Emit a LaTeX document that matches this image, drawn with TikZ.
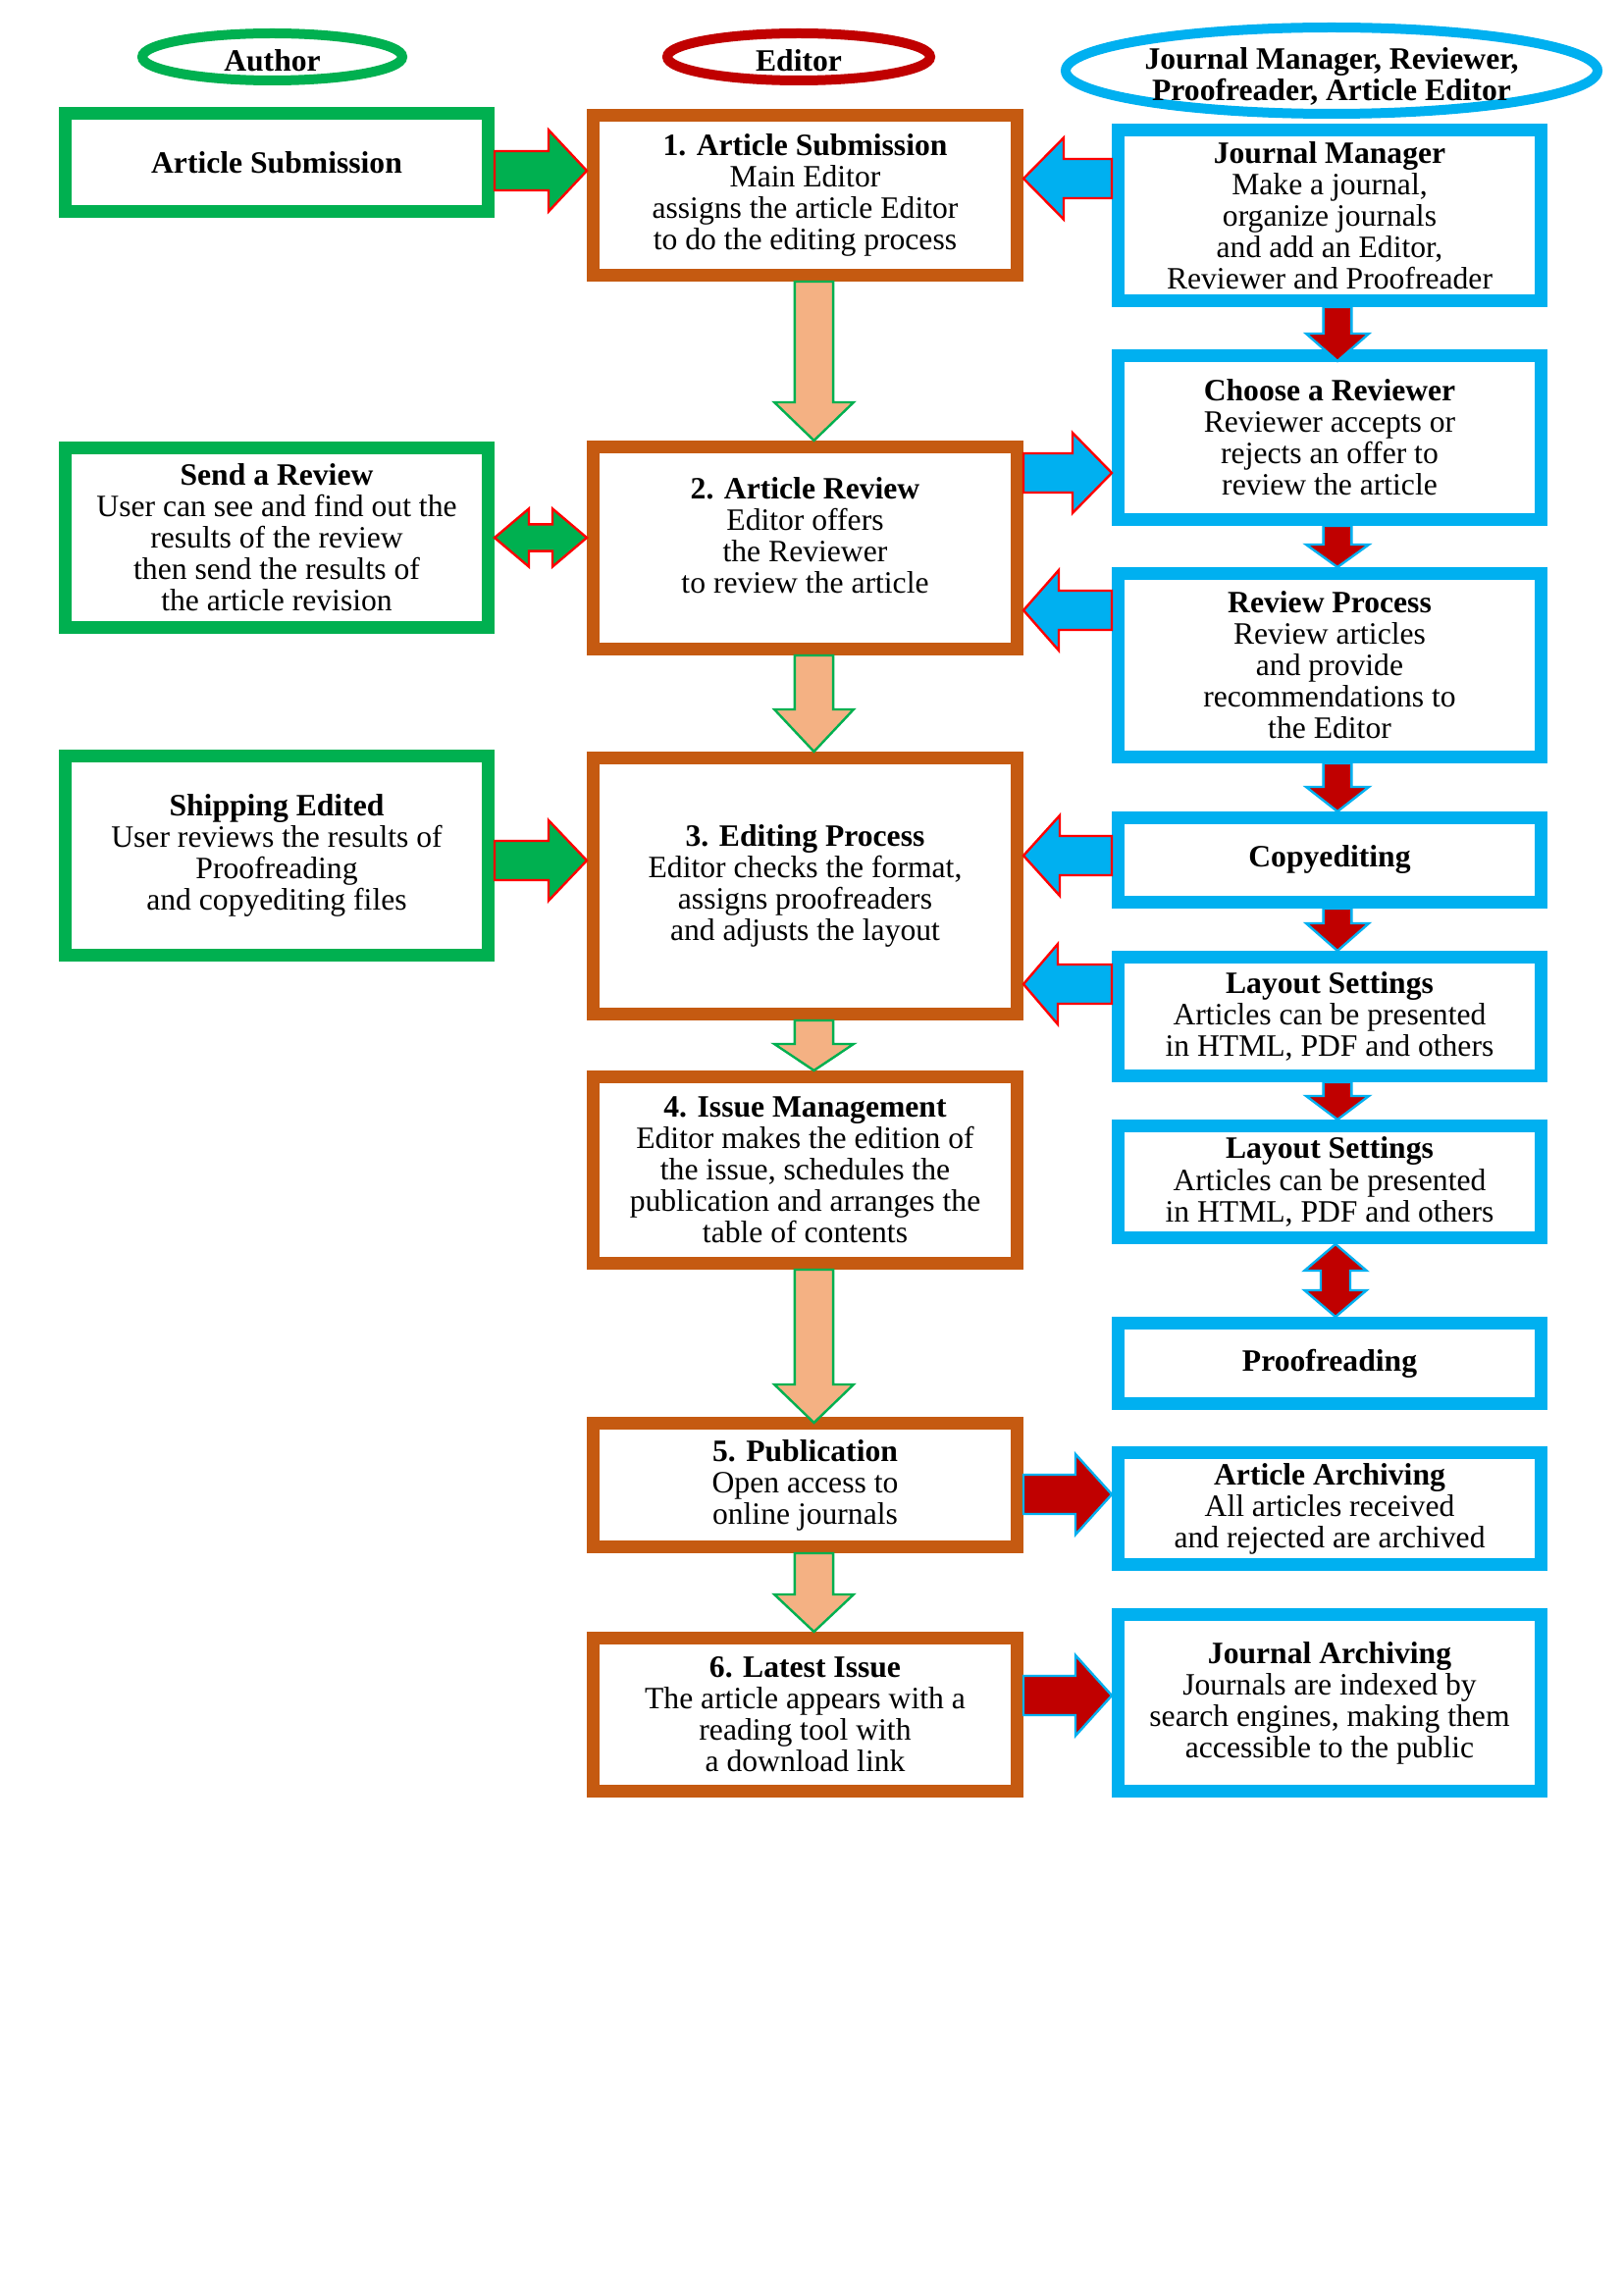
\documentclass[tikz,border=0pt]{standalone}
\usepackage{fontspec}
\setmainfont{Liberation Serif}
\usetikzlibrary{calc,shapes.geometric}
\definecolor{agreen}{HTML}{00B050}
\definecolor{eorange}{HTML}{C55A11}
\definecolor{jblue}{HTML}{00B0F0}
\definecolor{dred}{HTML}{C00000}
\definecolor{peach}{HTML}{F4B183}
\definecolor{bred}{HTML}{FF0000}

% single block arrow: style, start, end, shaft half width, head half width, head length
\newcommand\blockarrow[6]{%
  \path[#1] let \p1=#2, \p2=#3,
     \n1={atan2((\y2)-(\y1),(\x2)-(\x1))},
     \n2={veclen((\x2)-(\x1),(\y2)-(\y1))} in
     ($(\p1)+(\n1+90:#4)$) --
     ($(\p1)+(\n1:\n2-#6)+(\n1+90:#4)$) --
     ($(\p1)+(\n1:\n2-#6)+(\n1+90:#5)$) --
     (\p2) --
     ($(\p1)+(\n1:\n2-#6)+(\n1-90:#5)$) --
     ($(\p1)+(\n1:\n2-#6)+(\n1-90:#4)$) --
     ($(\p1)+(\n1-90:#4)$) -- cycle;}
% double block arrow
\newcommand\dblockarrow[6]{%
  \path[#1] let \p1=#2, \p2=#3,
     \n1={atan2((\y2)-(\y1),(\x2)-(\x1))},
     \n2={veclen((\x2)-(\x1),(\y2)-(\y1))} in
     (\p1) --
     ($(\p1)+(\n1:#6)+(\n1+90:#5)$) --
     ($(\p1)+(\n1:#6)+(\n1+90:#4)$) --
     ($(\p1)+(\n1:\n2-#6)+(\n1+90:#4)$) --
     ($(\p1)+(\n1:\n2-#6)+(\n1+90:#5)$) --
     (\p2) --
     ($(\p1)+(\n1:\n2-#6)+(\n1-90:#5)$) --
     ($(\p1)+(\n1:\n2-#6)+(\n1-90:#4)$) --
     ($(\p1)+(\n1:#6)+(\n1-90:#4)$) --
     ($(\p1)+(\n1:#6)+(\n1-90:#5)$) -- cycle;}

\begin{document}
\begin{tikzpicture}[x=0.25mm,y=0.25mm,
  txt/.style={font=\fontsize{22.5}{22.8}\selectfont, align=center, inner sep=2pt},
  box/.style={txt, rectangle, line width=3.25mm, fill=white, minimum width=107.75mm},
  abox/.style={box, draw=agreen},
  ebox/.style={box, draw=eorange, minimum width=108mm},
  jbox/.style={box, draw=jblue},
  role/.style={ellipse, line width=2.5mm, inner sep=0pt},
  roletxt/.style={txt, font=\fontsize{22.5}{22.8}\selectfont\bfseries},
  garrow/.style={fill=agreen, draw=bred, line width=0.6mm, line join=miter},
  barrow/.style={fill=jblue, draw=bred, line width=0.6mm, line join=miter},
  oarrow/.style={fill=peach, draw=agreen, line width=0.6mm, line join=miter},
  rarrow/.style={fill=dred, draw=jblue, line width=0.6mm, line join=miter}]

\fill[white] (0,0) rectangle (1654,-2339);
\useasboundingbox (0,0) rectangle (1654,-2339);

% role ellipses
\node[role, draw=agreen, minimum width=66.25mm, minimum height=12mm] (eauthor) at (277.5,-58) {};
\node[roletxt] (tauthor) at (277.5,-62) {Author};
\node[role, draw=dred, minimum width=67mm, minimum height=12mm] (eeditor) at (814,-58) {};
\node[roletxt] (teditor) at (814,-62) {Editor};
\node[role, draw=jblue, minimum width=135.5mm, minimum height=22mm] (ejm) at (1357,-72) {};
\node[roletxt] (tjm) at (1357,-78) {Journal Manager, Reviewer,\\Proofreader, Article Editor};

% author column
\node[abox, minimum height=25mm] (as) at (282,-165.5) {\textbf{Article Submission}};
\node[abox, minimum height=45.75mm] (sr) at (282,-548) {\textbf{Send a Review}\\User can see and find out the\\results of the review\\then send the results of\\the article revision};
\node[abox, minimum height=50.75mm] (se) at (282,-872) {\textbf{Shipping Edited}\\User reviews the results of\\Proofreading\\and copyediting files};

% editor column
\node[ebox, minimum height=40.75mm] (e1) at (820.5,-199) {\textbf{1. Article Submission}\\Main Editor\\assigns the article Editor\\to do the editing process};
\node[ebox, minimum height=51.5mm] (e2) at (820.5,-558.5) {\textbf{2. Article Review}\\Editor offers\\the Reviewer\\to review the article\\[-4pt]};
\node[ebox, minimum height=65.25mm] (e3) at (820.5,-903) {\textbf{3. Editing Process}\\Editor checks the format,\\assigns proofreaders\\and adjusts the layout};
\node[ebox, minimum height=47.5mm] (e4) at (820.5,-1192.5) {\textbf{4. Issue Management}\\Editor makes the edition of\\the issue, schedules the\\publication and arranges the\\table of contents};
\node[ebox, minimum height=31.5mm] (e5) at (820.5,-1513.5) {\textbf{5. Publication}\\Open access to\\online journals};
\node[ebox, minimum height=39mm] (e6) at (820.5,-1747.5) {\textbf{6. Latest Issue}\\The article appears with a\\reading tool with\\a download link};

% right column
\node[jbox, minimum height=43.5mm] (jm) at (1355,-219.5) {\textbf{Journal Manager}\\Make a journal,\\organize journals\\and add an Editor,\\Reviewer and Proofreader};
\node[jbox, minimum height=41.75mm] (cr) at (1355,-446) {\textbf{Choose a Reviewer}\\Reviewer accepts or\\rejects an offer to\\review the article};
\node[jbox, minimum height=46.75mm] (rp) at (1355,-678) {\textbf{Review Process}\\Review articles\\and provide\\recommendations to\\the Editor};
\node[jbox, minimum height=21.5mm] (ce) at (1355,-876.5) {\textbf{Copyediting}};
\node[jbox, minimum height=30.25mm] (l1) at (1355,-1036) {\textbf{Layout Settings}\\Articles can be presented\\in HTML, PDF and others};
\node[jbox, minimum height=28.5mm] (l2) at (1355,-1204.5) {\textbf{Layout Settings}\\Articles can be presented\\in HTML, PDF and others};
\node[jbox, minimum height=20.5mm] (pr) at (1355,-1389.5) {\textbf{Proofreading}};
\node[jbox, minimum height=28.5mm] (aa) at (1355,-1537.5) {\textbf{Article Archiving}\\All articles received\\and rejected are archived};
\node[jbox, minimum height=45mm] (ja) at (1355,-1735.5) {\textbf{Journal Archiving}\\Journals are indexed by\\search engines, making them\\accessible to the public};

% connectors (block arrows)
\coordinate (c1) at ($(as.east)+(0,-8.5)$);
\blockarrow{garrow}{(c1)}{(e1.west |- c1)}{5mm}{10.4mm}{9.75mm}
\coordinate (c2) at ($(jm.west)+(0,37.5)$);
\blockarrow{barrow}{(c2)}{(e1.east |- c2)}{5mm}{10.4mm}{10.25mm}
\coordinate (c3) at ($(e1.south)+(9,0)$);
\blockarrow{oarrow}{(c3)}{(e2.north -| c3)}{4.9mm}{10.1mm}{9.75mm}
\coordinate (c4) at ($(e2.east)+(0,76.5)$);
\blockarrow{barrow}{(c4)}{(cr.west |- c4)}{5mm}{10.25mm}{10mm}
\dblockarrow{garrow}{(sr.east)}{(e2.west |- sr.east)}{3.4mm}{7.4mm}{8.75mm}

\coordinate (c6) at ($(jm.south)+(8,0)$);
\coordinate (c6e) at ($(cr.north -| c6)+(0,-12)$);
\blockarrow{rarrow}{(c6)}{(c6e)}{3.6mm}{8mm}{7mm}
\coordinate (c7) at ($(cr.south)+(8,0)$);
\blockarrow{rarrow}{(c7)}{(rp.north -| c7)}{3.6mm}{8mm}{5.75mm}
\coordinate (c8) at ($(rp.south)+(8,0)$);
\blockarrow{rarrow}{(c8)}{(ce.north -| c8)}{3.6mm}{8mm}{6.25mm}
\coordinate (c9) at ($(ce.south)+(8,0)$);
\blockarrow{rarrow}{(c9)}{(l1.north -| c9)}{3.6mm}{8mm}{7mm}
\coordinate (c10) at ($(l1.south)+(8,0)$);
\blockarrow{rarrow}{(c10)}{(l2.north -| c10)}{3.6mm}{8mm}{6mm}
\coordinate (c11) at ($(l2.south)+(6,0)$);
\dblockarrow{rarrow}{(c11)}{(pr.north -| c11)}{3.75mm}{7.9mm}{6.75mm}

\coordinate (c12) at ($(rp.west)+(0,56)$);
\blockarrow{barrow}{(c12)}{(e2.east |- c12)}{5mm}{10.25mm}{9mm}
\coordinate (c13) at ($(e2.south)+(9,0)$);
\blockarrow{oarrow}{(c13)}{(e3.north -| c13)}{4.9mm}{10.1mm}{10.75mm}
\coordinate (c14) at ($(se.east)+(0,-5)$);
\blockarrow{garrow}{(c14)}{(e3.west |- c14)}{5mm}{10.25mm}{9.75mm}
\coordinate (c15) at ($(ce.west)+(0,4.5)$);
\blockarrow{barrow}{(c15)}{(e3.east |- c15)}{5mm}{10.25mm}{9.25mm}
\coordinate (c16) at ($(l1.west)+(0,33)$);
\blockarrow{barrow}{(c16)}{(e3.east |- c16)}{5mm}{10.25mm}{8.75mm}
\coordinate (c17) at ($(e3.south)+(9,0)$);
\blockarrow{oarrow}{(c17)}{(e4.north -| c17)}{4.9mm}{10.1mm}{6.75mm}
\coordinate (c18) at ($(e4.south)+(9,0)$);
\coordinate (c18e) at ($(e5.north -| c18)+(0,-6)$);
\blockarrow{oarrow}{(c18)}{(c18e)}{4.9mm}{10.1mm}{9.75mm}
\coordinate (c19) at ($(e5.south)+(9,0)$);
\blockarrow{oarrow}{(c19)}{(e6.north -| c19)}{4.9mm}{10.1mm}{9.5mm}
\coordinate (c20) at ($(e5.east)+(0,-9.5)$);
\blockarrow{rarrow}{(c20)}{(aa.west |- c20)}{5mm}{10.25mm}{9.25mm}
\coordinate (c21) at ($(e6.east)+(0,19.5)$);
\blockarrow{rarrow}{(c21)}{(ja.west |- c21)}{5mm}{10.25mm}{9.25mm}
\end{tikzpicture}
\end{document}
